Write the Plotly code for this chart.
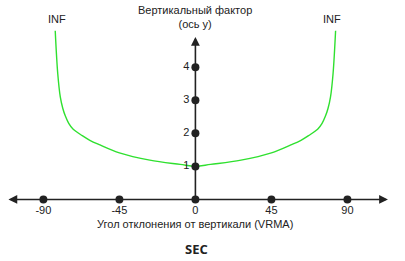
import plotly.graph_objects as go

# Data
angle = [-83, -81.5, -80, -78.5, -77, -75, -72.5, -67, -62.5, -56.5, -45, -27, -9, 0,
         9, 27, 45, 56.5, 62.5, 67, 72.5, 75, 77, 78.5, 80, 81.5, 83]
factor = [5.1, 3.8, 3.1, 2.75, 2.52, 2.3, 2.13, 1.93, 1.79, 1.65, 1.41, 1.19, 1.06, 1.0,
          1.06, 1.19, 1.41, 1.65, 1.79, 1.93, 2.13, 2.3, 2.52, 2.75, 3.1, 3.8, 5.1]
x_ticks = [-90, -45, 0, 45, 90]
x_tick_labels = ["-90", "-45", "0", "45", "90"]
y_ticks = [1, 2, 3, 4]
y_tick_labels = ["1", "2", "3", "4"]
inf_positions = [-81.7, 80.8]
inf_labels = ["INF", "INF"]

X_RANGE = [-115.7, 124.1]
Y_RANGE = [-1.86, 6.03]
X_AXIS_EXT = [-111.6, 114.0]
Y_AXIS_TOP = 4.91
AXIS_COLOR = "#222222"
FONT = "Liberation Sans, Arial, sans-serif"

fig = go.Figure()

fig.add_trace(go.Scatter(
    x=angle, y=factor, mode="lines",
    line=dict(color="#2fe02f", width=1.4, shape="spline", smoothing=1.0),
    hoverinfo="skip"))

fig.add_trace(go.Scatter(
    x=x_ticks, y=[0] * len(x_ticks), mode="markers+text",
    text=x_tick_labels, textposition="bottom center",
    textfont=dict(family=FONT, size=11, color="#222"),
    marker=dict(color=AXIS_COLOR, size=8), cliponaxis=False))

fig.add_trace(go.Scatter(
    x=[0] * len(y_ticks), y=y_ticks, mode="markers+text",
    text=y_tick_labels, textposition="middle left",
    textfont=dict(family=FONT, size=11, color="#222"),
    marker=dict(color=AXIS_COLOR, size=8), cliponaxis=False))

annotations = [
    # x axis, double arrow
    dict(x=X_AXIS_EXT[1], y=0, ax=X_AXIS_EXT[0], ay=0, xref="x", yref="y",
         axref="x", ayref="y", showarrow=True, arrowhead=2, arrowside="end+start",
         arrowsize=1.1, arrowwidth=1.6, arrowcolor=AXIS_COLOR, text=""),
    # y axis
    dict(x=0, y=Y_AXIS_TOP, ax=0, ay=0, xref="x", yref="y",
         axref="x", ayref="y", showarrow=True, arrowhead=2,
         arrowsize=1.1, arrowwidth=1.6, arrowcolor=AXIS_COLOR, text=""),
    dict(x=0.482, y=1 - 2 / 261, xref="paper", yref="paper", showarrow=False,
         text="Вертикальный фактор<br>(ось y)", align="center",
         font=dict(family=FONT, size=11, color="#222"), yanchor="top", xanchor="center"),
    dict(x=0.482, y=(261 - 224) / 261, xref="paper", yref="paper", showarrow=False,
         text="Угол отклонения от вертикали (VRMA)", yanchor="middle", xanchor="center",
         font=dict(family=FONT, size=11, color="#222")),
    dict(x=0.484, y=(261 - 249) / 261, xref="paper", yref="paper", showarrow=False,
         text="<b>SEC</b>", yanchor="middle", xanchor="center",
         font=dict(family="Open Sans, sans-serif", size=13, color="#222")),
]
for xp, lab in zip(inf_positions, inf_labels):
    annotations.append(dict(x=xp, y=5.45, xref="x", yref="y", showarrow=False,
                            text=lab, font=dict(family=FONT, size=11, color="#222")))

fig.update_layout(
    width=405, height=261, margin=dict(l=0, r=0, t=0, b=0),
    paper_bgcolor="white", plot_bgcolor="white", showlegend=False,
    xaxis=dict(range=X_RANGE, visible=False, fixedrange=True),
    yaxis=dict(range=Y_RANGE, visible=False, fixedrange=True),
    annotations=annotations)

fig.write_html("out.html")
